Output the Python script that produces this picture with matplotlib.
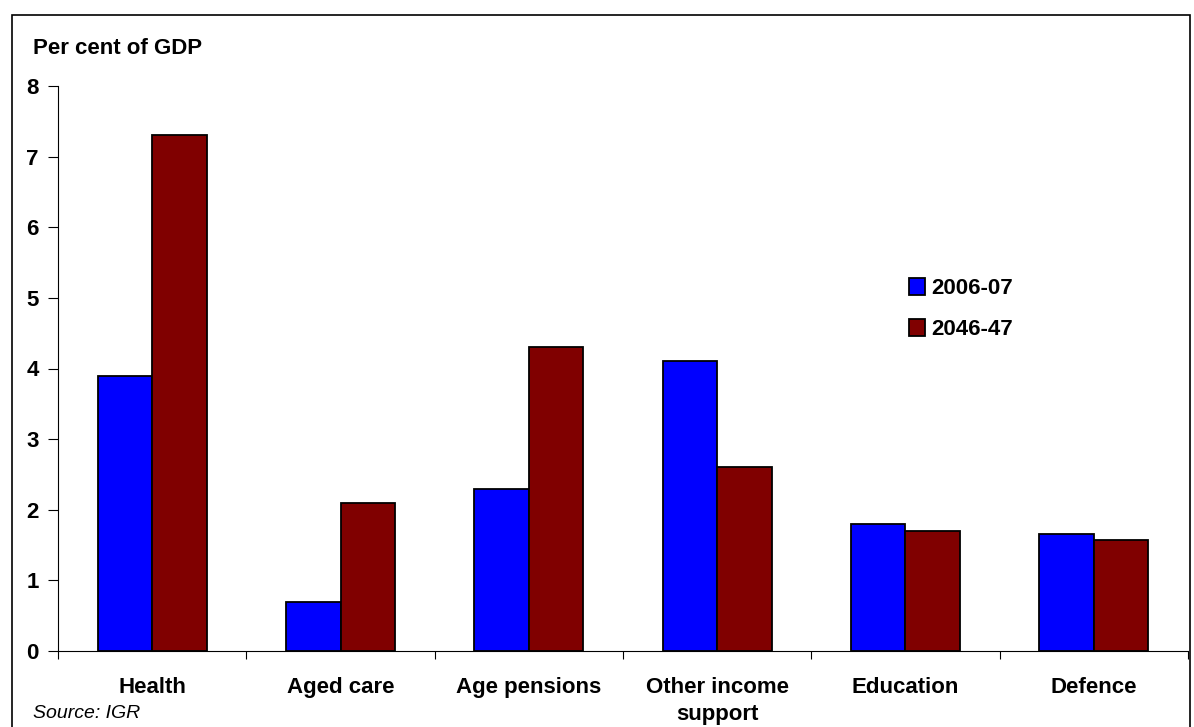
import numpy as np
import matplotlib.pyplot as plt
from matplotlib.patches import Rectangle

categories = ['Health', 'Aged care', 'Age pensions', 'Other income\nsupport', 'Education', 'Defence']
y2006 = [3.9, 0.7, 2.3, 4.1, 1.8, 1.65]
y2046 = [7.3, 2.1, 4.3, 2.6, 1.7, 1.57]

plt.rcParams['font.family'] = ['Liberation Sans', 'DejaVu Sans']

fig = plt.figure(figsize=(11.94, 7.27), dpi=100)
ax = fig.add_axes([58/1194, 1 - 651/727, 1130/1194, (651 - 86)/727])

x = np.arange(len(categories))
w = 0.29
ax.bar(x - w/2, y2006, w, color='#0000ff', edgecolor='black', linewidth=1.3, label='2006-07')
ax.bar(x + w/2, y2046, w, color='#800000', edgecolor='black', linewidth=1.3, label='2046-47')

ax.set_xlim(-0.5, len(categories) - 0.5)
ax.set_ylim(0, 8)

# category boundaries carry the ticks, labels sit in the middle
ax.set_xticks(np.arange(len(categories) + 1) - 0.5)
ax.set_xticklabels([])
ax.set_xticks(x, minor=True)
ax.set_xticklabels(categories, minor=True, fontsize=16, fontweight='bold', linespacing=1.35)
ax.tick_params(axis='x', which='minor', length=0, pad=19)
ax.tick_params(axis='x', which='major', length=6, direction='out', width=0.8)

ax.set_yticks(range(9))
ax.tick_params(axis='y', length=7, width=0.8, pad=7)
for lab in ax.get_yticklabels():
    lab.set_fontsize(16)
    lab.set_fontweight('bold')

ax.spines['top'].set_visible(False)
ax.spines['right'].set_visible(False)
ax.spines['left'].set_linewidth(0.8)
ax.spines['bottom'].set_linewidth(0.8)

fig.text(33/1194, 1 - 48/727, 'Per cent of GDP', fontsize=16, fontweight='bold', va='center')
fig.text(33/1194, 1 - 714/727, 'Source: IGR', fontsize=14, style='italic', va='center')

ax.legend(loc='center left', bbox_to_anchor=(0.735, 0.605), frameon=False,
          prop={'size': 16, 'weight': 'bold'}, handlelength=0.75, handleheight=0.75,
          handletextpad=0.25, labelspacing=0.9)

fig.patches.append(Rectangle((12/1194, -0.01), (1190 - 12)/1194, 1 - 15/727 + 0.01,
                             transform=fig.transFigure, fill=False, edgecolor='black', linewidth=1.2))

fig.savefig('out.png', dpi=100)
